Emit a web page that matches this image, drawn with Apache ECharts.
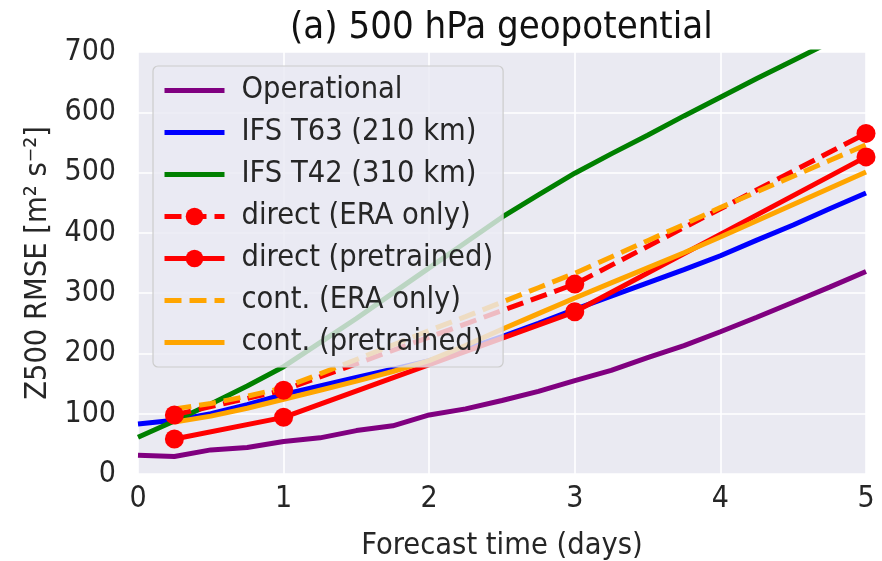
<!DOCTYPE html>
<html>
<head>
<meta charset="utf-8">
<script src="https://cdn.jsdelivr.net/npm/echarts@6/dist/echarts.min.js"></script>
<style>
  html, body { margin: 0; padding: 0; background: #fff; }
  #chart { width: 882px; height: 561px; }
</style>
</head>
<body>
<div id="chart"></div>
<script>
// forecast lead times (days)
const days = [0, 0.25, 0.5, 0.75, 1, 1.25, 1.5, 1.75, 2, 2.25, 2.5, 2.75, 3, 3.25, 3.5, 3.75, 4, 4.25, 4.5, 4.75, 5];
const contDays = [0.25, 0.5, 0.75, 1, 1.25, 1.5, 1.75, 2, 2.25, 2.5, 2.75, 3, 3.25, 3.5, 3.75, 4, 4.25, 4.5, 4.75, 5];
const directDays = [0.25, 1, 3, 5];

// Z500 RMSE values
const operational = [31, 29, 40, 44, 54, 60, 72, 80, 98, 108, 122, 137, 155, 172, 193, 213, 236, 260, 285, 310, 336];
const ifsT63 = [83, 89, 100, 115, 132, 146, 160, 174, 188, 207, 228, 250, 273, 295, 317, 339, 362, 388, 413, 440, 466];
const ifsT42 = [61, 88, 116, 146, 178, 218, 258, 300, 342, 384, 426, 463, 499, 531, 562, 594, 625, 656, 686, 716, 745];
const directEra = [98, 139, 315, 565];
const directPre = [58, 94, 269, 526];
const contEra = [108, 117, 129, 143, 166, 190, 214, 238, 261, 285, 309, 333, 360, 387, 414, 442, 468, 494, 520, 546];
const contPre = [86, 96, 109, 124, 139, 154, 170, 188, 213, 240, 266, 292, 317, 342, 367, 393, 420, 447, 474, 501];

const yTicks = [0, 100, 200, 300, 400, 500, 600, 700];

const FONT = "'DejaVu Sans Condensed', 'DejaVu Sans', sans-serif";
const TXT = '#262626';

function pairs(xs, ys) {
  return xs.map((x, i) => [x, ys[i]]);
}

function lineSeries(name, xs, ys, color, opts) {
  opts = opts || {};
  return {
    name: name,
    type: 'line',
    data: pairs(xs, ys),
    symbol: opts.marker ? 'circle' : 'none',
    symbolSize: 19,
    showSymbol: !!opts.marker,
    lineStyle: { color: color, width: 5, type: opts.dash ? [17, 8] : 'solid', cap: 'butt' },
    itemStyle: { color: color },
    emphasis: { disabled: true },
    animation: false
  };
}

// legend entries; plain lines get no dot in their icon
function legendItem(name, marker) {
  return marker ? { name: name } : { name: name, itemStyle: { opacity: 0 } };
}

let chart = echarts.init(document.getElementById('chart'));
let option = {
  backgroundColor: '#fff',
  title: {
    text: '(a) 500 hPa geopotential',
    left: 285,
    top: 4,
    textStyle: { fontFamily: FONT, fontSize: 38, fontWeight: 'normal', color: '#111' }
  },
  legend: {
    left: 153,
    top: 66,
    orient: 'vertical',
    padding: [9, 10, 9, 9],
    itemWidth: 60,
    itemHeight: 22,
    itemGap: 11,
    backgroundColor: 'rgba(234,234,242,0.8)',
    borderColor: '#cccccc',
    borderWidth: 1.2,
    borderRadius: 5,
    lineStyle: { width: 5 },
    textStyle: { fontFamily: FONT, fontSize: 30.5, lineHeight: 30, color: TXT, padding: [0, 0, 0, 12] },
    data: [
      legendItem('Operational'),
      legendItem('IFS T63 (210 km)'),
      legendItem('IFS T42 (310 km)'),
      legendItem('direct (ERA only)', true),
      legendItem('direct (pretrained)', true),
      legendItem('cont. (ERA only)'),
      legendItem('cont. (pretrained)')
    ]
  },
  grid: {
    left: 138,
    right: 16,
    top: 52,
    bottom: 87,
    outerBoundsMode: 'none',
    show: true,
    backgroundColor: '#EAEAF2',
    borderWidth: 0
  },
  xAxis: {
    type: 'value',
    min: 0,
    max: 5,
    interval: 1,
    name: 'Forecast time (days)',
    nameLocation: 'middle',
    nameGap: 57,
    nameTextStyle: { fontFamily: FONT, fontSize: 30.5, color: TXT },
    axisLine: { show: false },
    axisTick: { show: false },
    axisLabel: { fontFamily: FONT, fontSize: 30, color: TXT, margin: 10 },
    splitLine: { lineStyle: { color: '#fff', width: 1.6 } }
  },
  yAxis: {
    type: 'value',
    min: yTicks[0],
    max: yTicks[yTicks.length - 1],
    interval: 100,
    name: 'Z500 RMSE [m² s⁻²]',
    nameLocation: 'middle',
    nameRotate: 90,
    nameGap: 80,
    nameTextStyle: { fontFamily: FONT, fontSize: 30.5, color: TXT },
    axisLine: { show: false },
    axisTick: { show: false },
    axisLabel: { fontFamily: FONT, fontSize: 30, color: TXT, margin: 22 },
    splitLine: { lineStyle: { color: '#fff', width: 1.6 } }
  },
  series: [
    lineSeries('Operational', days, operational, '#800080'),
    lineSeries('IFS T63 (210 km)', days, ifsT63, '#0000ff'),
    lineSeries('IFS T42 (310 km)', days, ifsT42, '#008000'),
    lineSeries('direct (ERA only)', directDays, directEra, '#ff0000', { marker: true, dash: true }),
    lineSeries('direct (pretrained)', directDays, directPre, '#ff0000', { marker: true }),
    lineSeries('cont. (ERA only)', contDays, contEra, '#ffa500', { dash: true }),
    lineSeries('cont. (pretrained)', contDays, contPre, '#ffa500')
  ]
};
chart.setOption(option);
</script>
</body>
</html>
